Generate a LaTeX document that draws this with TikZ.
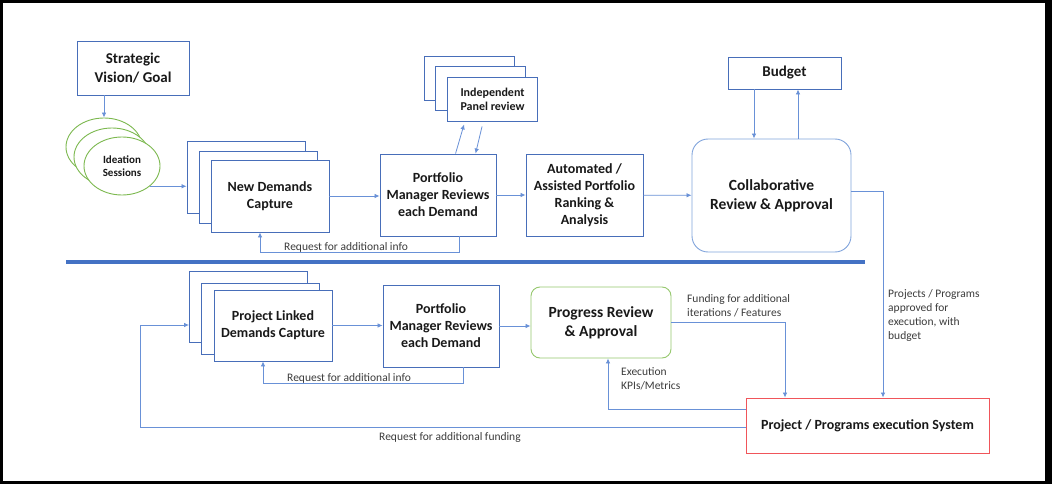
\documentclass[tikz,border=0pt]{standalone}
\usepackage{fontspec}
\setmainfont{Carlito}
\usetikzlibrary{shapes.geometric,arrows.meta}

\definecolor{boxblue}{RGB}{72,110,185}
\definecolor{lineblue}{RGB}{105,145,215}
\definecolor{roundblue}{RGB}{130,165,220}
\definecolor{barblue}{RGB}{68,114,196}
\definecolor{idgreen}{RGB}{125,185,80}
\definecolor{revgreen}{RGB}{150,200,110}
\definecolor{execred}{RGB}{240,85,90}
\definecolor{labelgray}{RGB}{60,60,60}

\begin{document}
\begin{tikzpicture}[x=1pt, y=-1pt, nodes = {align = center}, >={Latex[length=5pt,width=4.5pt]}]

  \tikzstyle{box}=[draw=boxblue, line width=0.9pt, rectangle, fill=white, inner sep=0pt, text=black!90, font=\fontsize{14}{17}\selectfont\bfseries]
  \tikzstyle{stack}=[box, minimum width=118pt, minimum height=72pt]
  \tikzstyle{review}=[box, minimum width=116pt, minimum height=82pt]
  \tikzstyle{approval}=[box, font=\fontsize{15.5}{19}\selectfont\bfseries]
  \tikzstyle{panel}=[box, minimum width=90pt, minimum height=44pt, font=\fontsize{12}{14}\selectfont\bfseries]
  \tikzstyle{ideation}=[draw=idgreen, line width=0.9pt, ellipse, fill=white, minimum width=76pt, minimum height=58pt, inner sep=0pt, text=black!90, font=\fontsize{11}{13}\selectfont\bfseries]
  \tikzstyle{conn}=[color=lineblue, line width=0.8pt]
  \tikzstyle{lbl}=[text=labelgray, font=\fontsize{11.5}{14.2}\selectfont, align=left, inner sep=0pt]

  % Frame
  \useasboundingbox (0,0) rectangle (1052,484);
  \fill[black] (0,0) rectangle (1052,484);
  \fill[white] (3,3) rectangle (1045,481);

  % Demand intake
  \node[box, minimum width=112pt, minimum height=54pt, font=\fontsize{15}{19}\selectfont\bfseries] (goal) at (133,68) {Strategic\\Vision/ Goal};
  \node[ideation] (idea3) at (104,147) {};
  \node[ideation] (idea2) at (112,157) {};
  \node[ideation] (idea1) at (122,166) {Ideation\\Sessions};
  \node[stack] (ndc3) at (246,177) {};
  \node[stack] (ndc2) at (258,187) {};
  \node[stack] (ndc1) at (270,196) {New Demands\\Capture};

  % Review and approval
  \node[review] (pm1) at (438,195) {Portfolio\\Manager Reviews\\each Demand};
  \node[panel] (panel3) at (469,78) {};
  \node[panel] (panel2) at (480.5,88) {};
  \node[panel] (panel1) at (492.5,99) {Independent\\Panel review};
  \node[box, minimum width=117pt, minimum height=82pt] (auto) at (584.5,195) {Automated /\\Assisted Portfolio\\Ranking \&\\Analysis};
  \node[approval, draw=roundblue, rounded corners=16pt, minimum width=159pt, minimum height=113pt] (collab) at (771.5,195.5) {Collaborative\\Review \& Approval};
  \node[box, minimum width=113pt, minimum height=32pt, font=\fontsize{15}{18}\selectfont\bfseries] (budget) at (784.5,73) {Budget};

  % Execution side
  \node[stack, minimum height=71pt] (pldc3) at (248.5,307) {};
  \node[stack, minimum height=71pt] (pldc2) at (260.5,319) {};
  \node[stack, minimum height=71pt] (pldc1) at (273,325.5) {Project Linked\\Demands Capture};
  \node[review] (pm2) at (441,326) {Portfolio\\Manager Reviews\\each Demand};
  \node[approval, draw=revgreen, rounded corners=9pt, minimum width=140pt, minimum height=71pt] (progress) at (601,322.5) {Progress Review\\\& Approval};
  \node[box, draw=execred, minimum width=243pt, minimum height=55pt] (exec) at (867.5,425.5) {Project / Programs execution System};
  \coordinate (fundturn) at (140,325);

  % Labels
  \node[lbl, anchor=base west] (reqinfo1) at (284,250) {Request for additional info};
  \node[lbl, anchor=base west] (reqinfo2) at (287,381.5) {Request for additional info};
  \node[lbl, anchor=base west] (reqfund) at (379,440.5) {Request for additional funding};
  \node[lbl, anchor=north west] (approved) at (888,289) {Projects / Programs\\approved for\\execution, with\\budget};
  \node[lbl, anchor=north west] (funding) at (687,294) {Funding for additional\\iterations / Features};
  \node[lbl, anchor=north west] (kpis) at (621,367) {Execution\\KPIs/Metrics};

  % Separator
  \draw[barblue, line width=4pt] (66,262) -- (865,262);

  % Lines in top row
  \draw[conn,->] (goal.south -| idea3.north) -- (idea3.north);
  \draw[conn,->] (idea1.-36) -- (idea1.-36 -| ndc3.west);
  \draw[conn,->] (ndc1.east) -- (ndc1.east -| pm1.west);
  \draw[conn,->] (pm1) -- (auto);
  \draw[conn,->] (auto) -- (collab);
  \draw[conn,->] ([xshift=76pt]pm1.north west) -- ([xshift=17pt,yshift=-3pt]panel1.south west);
  \draw[conn,->] ([xshift=35pt,yshift=-5pt]panel1.south west) -- ([xshift=96pt]pm1.north west);
  \draw[conn,->] ([xshift=-30.5pt]budget.south) -- ([xshift=-30.5pt]budget.south |- collab.north);
  \draw[conn,->] ([xshift=13.5pt]budget.south |- collab.north) -- ([xshift=13.5pt]budget.south);
  \draw[conn,->] ([xshift=21pt]pm1.south) -- ++(0,16) -| ([xshift=-10pt]ndc1.south);
  \draw[conn,->] ([yshift=4.5pt]collab.east) -| ([xshift=15.5pt]exec.north);

  % Lines in bottom row
  \draw[conn,->] (pldc1.east) -- (pldc1.east -| pm2.west);
  \draw[conn,->] (pm2.east) -- (pm2.east -| progress.west);
  \draw[conn,->] ([xshift=22pt]pm2.south) -- ++(0,16) -| ([xshift=-10pt]pldc1.south);
  \draw[conn,->] (progress.east) -| ([xshift=-82.5pt]exec.north);
  \draw[conn,->] ([yshift=16.5pt]exec.west) -| ([xshift=7pt]progress.south);
  \draw[conn,->] ([yshift=-1.5pt]exec.west) -| (fundturn) -- (fundturn -| pldc3.west);

\end{tikzpicture}
\end{document}
